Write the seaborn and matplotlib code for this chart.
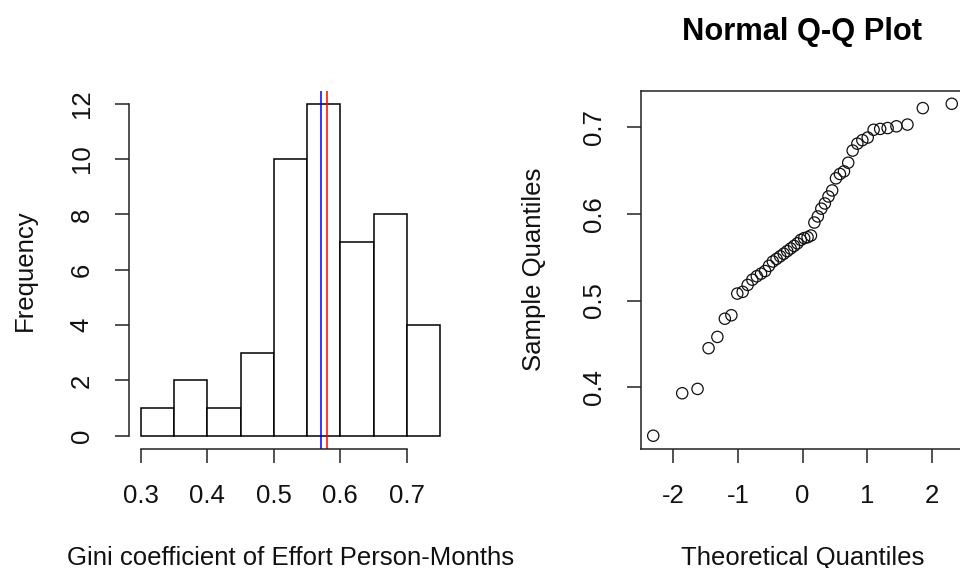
from statistics import NormalDist

import numpy as np
import matplotlib
matplotlib.use("Agg")
import matplotlib.pyplot as plt
import seaborn as sns

# ---- data (sorted Gini values) ----
gini = [
    0.344, 0.393, 0.398, 0.445, 0.458, 0.479, 0.483,
    0.508, 0.510, 0.518, 0.524, 0.528, 0.531, 0.534, 0.540, 0.545, 0.548,
    0.551, 0.554, 0.557, 0.560, 0.563, 0.566, 0.570, 0.572, 0.573, 0.575, 0.590, 0.597,
    0.606, 0.612, 0.620, 0.627, 0.641, 0.646, 0.649,
    0.659, 0.673, 0.681, 0.685, 0.688, 0.697, 0.698, 0.699,
    0.701, 0.703, 0.722, 0.727,
]
bin_edges = [0.30, 0.35, 0.40, 0.45, 0.50, 0.55, 0.60, 0.65, 0.70, 0.75]
hist_xticks = [0.3, 0.4, 0.5, 0.6, 0.7]
hist_yticks = [0, 2, 4, 6, 8, 10, 12]
qq_xticks = [-2, -1, 0, 1, 2]
qq_yticks = [0.4, 0.5, 0.6, 0.7]

x_label_hist = "Gini coefficient of Effort Person-Months"
y_label_hist = "Frequency"
qq_title = "Normal Q-Q Plot"
x_label_qq = "Theoretical Quantiles"
y_label_qq = "Sample Quantiles"

# theoretical quantiles like R's qqnorm (ppoints with a = 0.5)
n = len(gini)
theo = [NormalDist().inv_cdf((i - 0.5) / n) for i in range(1, n + 1)]
g_median = float(np.median(gini))
g_mean = float(np.mean(gini))


def r_range(lo, hi):
    d = (hi - lo) * 0.04
    return lo - d, hi + d


sns.set_style("white")
plt.rcParams["font.family"] = ["Liberation Sans", "DejaVu Sans"]
plt.rcParams["axes.unicode_minus"] = False
plt.rcParams["text.color"] = "#111111"
plt.rcParams["axes.labelcolor"] = "#111111"
FS = 18.5
W, H = 960, 568

fig = plt.figure(figsize=(9.6, 5.68), dpi=100)
y0, y1 = 119, 477.5
ax1 = fig.add_axes([129 / W, y0 / H, (452 - 129) / W, (y1 - y0) / H])
ax2 = fig.add_axes([641.3 / W, y0 / H, (963.7 - 641.3) / W, (y1 - y0) / H])

# ---- histogram ----
sns.histplot(x=gini, bins=bin_edges, ax=ax1, color="white", edgecolor="black",
             linewidth=1.1, alpha=1)
ax1.axvline(g_median, color="blue", lw=1.1)
ax1.axvline(g_mean, color="red", lw=1.1)
ax1.set_xlim(*r_range(0.30, 0.75))
ax1.set_ylim(*r_range(0, 12))
ax1.set_xticks(hist_xticks)
ax1.set_xticklabels([f"{t:.1f}" for t in hist_xticks])
ax1.set_yticks(hist_yticks)
for s in ["top", "right"]:
    ax1.spines[s].set_visible(False)
ax1.spines["bottom"].set_bounds(0.3, 0.7)
ax1.spines["left"].set_bounds(0, 12)

# ---- Q-Q plot ----
sns.scatterplot(x=theo, y=gini, ax=ax2, marker="o", s=66, facecolor="none",
                edgecolor="#111111", linewidth=0.9)
ax2.set_xlim(*r_range(min(theo), max(theo)))
ax2.set_ylim(*r_range(min(gini), max(gini)))
ax2.set_xticks(qq_xticks)
ax2.set_yticks(qq_yticks)
ax2.set_yticklabels([f"{t:.1f}" for t in qq_yticks])
fig.text(802.5 / W, 1 - 40 / H, qq_title, ha="center", va="baseline",
         fontsize=22.2, fontweight="bold", color="black")

for ax, xl, yl, ylx in [(ax1, x_label_hist, y_label_hist, 25),
                        (ax2, x_label_qq, y_label_qq, 534)]:
    for s in ax.spines.values():
        s.set_color("#222222")
        s.set_linewidth(1.1)
    ax.tick_params(axis="both", direction="out", length=10, width=1.1,
                   pad=15.5, labelsize=FS, colors="#111111", bottom=True, left=True)
    ax.tick_params(axis="both", color="#222222")
    for lab in ax.get_yticklabels():
        lab.set_rotation(90)
        lab.set_va("center")
    ax.set_xlabel(xl, fontsize=FS)
    ax.xaxis.label.set_va("baseline")
    ax.xaxis.set_label_coords(0.5, -(565 - 449.3) / (y1 - y0))
    ax.set_ylabel(yl, fontsize=FS)
    ax.yaxis.label.set_va("center")
    left_px = ax.get_position().x0 * W
    width_px = ax.get_position().width * W
    ax.yaxis.set_label_coords((ylx - left_px) / width_px, 0.5)

fig.savefig("out.png", dpi=100, facecolor="white")
